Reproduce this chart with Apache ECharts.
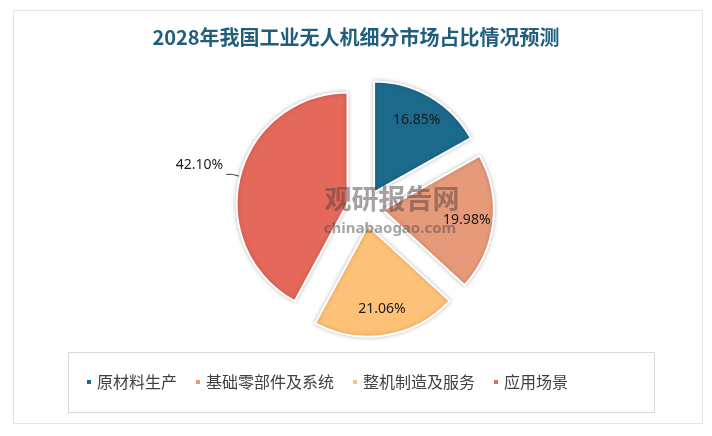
<!DOCTYPE html>
<html>
<head>
<meta charset="utf-8">
<script src="https://cdn.jsdelivr.net/npm/echarts@6/dist/echarts.min.js"></script>
<style>
html,body{margin:0;padding:0;background:#fff;}
#chart{width:712px;height:436px;}
</style>
</head>
<body>
<div id="chart"></div>
<script>
const titleText = '2028年我国工业无人机细分市场占比情况预测';
const categories = ['原材料生产', '基础零部件及系统', '整机制造及服务', '应用场景'];
const values = [16.85, 19.98, 21.06, 42.10];
const colors = ['#1b6a8c', '#e69a79', '#fdc278', '#e4695a'];
const outsideLabelIndex = 3;

const chart = echarts.init(document.getElementById('chart'));
const fmt = p => p.value.toFixed(2) + '%';
const labelFont = "'Noto Sans', sans-serif";

const mainData = categories.map((name, i) => ({
  name: name,
  value: values[i],
  selected: true,
  itemStyle: { color: colors[i] },
  label: { show: i === outsideLabelIndex },
  labelLine: { show: i === outsideLabelIndex }
}));
const labelData = categories.map((name, i) => ({
  name: name,
  value: values[i],
  selected: true,
  label: { show: i !== outsideLabelIndex }
}));

chart.setOption({
  backgroundColor: '#ffffff',
  animation: false,
  graphic: [
    {
      type: 'rect', z: -10,
      shape: { x: 13.5, y: 10.5, width: 689, height: 413 },
      style: { fill: '#ffffff', stroke: '#e4e4e4', lineWidth: 1 }
    },
    {
      type: 'rect', z: -9,
      shape: { x: 68.5, y: 352.5, width: 586, height: 60 },
      style: { fill: 'none', stroke: '#d9d9d9', lineWidth: 1 }
    },
    {
      type: 'text', z: 50,
      style: {
        text: '观研报告网', x: 392, y: 199, align: 'center', verticalAlign: 'middle',
        font: "bold 27px 'Noto Sans CJK SC'", fill: 'rgba(80,65,65,0.5)'
      }
    },
    {
      type: 'text', z: 50,
      style: {
        text: 'chinabaogao.com', x: 390, y: 229, align: 'center', verticalAlign: 'middle',
        font: "bold 15px 'Noto Sans', sans-serif", fill: 'rgba(80,75,75,0.5)'
      }
    }
  ],
  title: {
    text: titleText,
    left: 'center',
    top: 22,
    textStyle: {
      fontSize: 20, fontWeight: 'bold', color: '#1f5e7d',
      fontFamily: "'Noto Sans CJK SC', sans-serif"
    }
  },
  legend: {
    data: categories,
    left: 85,
    top: 374,
    padding: 0,
    icon: 'rect',
    itemWidth: 6,
    itemHeight: 6,
    itemGap: 17,
    selectedMode: false,
    textStyle: {
      fontSize: 16, color: '#404040',
      fontFamily: "'Noto Sans CJK SC', sans-serif"
    }
  },
  series: [
    {
      type: 'pie',
      center: [365, 208],
      radius: [0, 111],
      startAngle: 90,
      clockwise: true,
      selectedMode: 'multiple',
      selectedOffset: 18,
      avoidLabelOverlap: false,
      emphasis: { disabled: true },
      itemStyle: {
        borderColor: '#ffffff', borderWidth: 2,
        shadowBlur: 4, shadowColor: 'rgba(0,0,0,0.22)'
      },
      label: {
        position: 'outside', formatter: fmt,
        fontSize: 14, color: '#1a1a1a', fontFamily: labelFont,
        distanceToLabelLine: 3
      },
      labelLine: {
        length: 8, length2: 6,
        lineStyle: { color: '#404040', width: 1 }
      },
      labelLayout: function (params) {
        if (params.dataIndex === outsideLabelIndex) {
          return { dy: -9 };
        }
        return {};
      },
      data: mainData
    },
    {
      type: 'pie',
      center: [365, 208],
      radius: [52, 111],
      startAngle: 90,
      clockwise: true,
      selectedMode: 'multiple',
      selectedOffset: 18,
      silent: true,
      z: 5,
      emphasis: { disabled: true },
      itemStyle: { color: 'rgba(0,0,0,0)', borderWidth: 0 },
      label: {
        position: 'inside', formatter: fmt,
        fontSize: 14, color: '#1a1a1a', fontFamily: labelFont
      },
      labelLine: { show: false },
      data: labelData
    }
  ]
});
</script>
</body>
</html>
